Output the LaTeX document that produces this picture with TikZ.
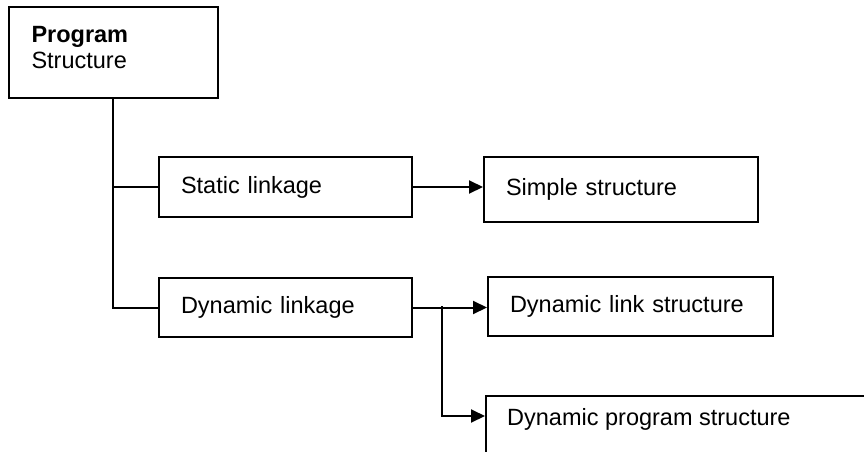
\documentclass[tikz,border=0pt]{standalone}
\usepackage{fontspec}
\setmainfont{Liberation Sans}
\usetikzlibrary{arrows.meta}
\begin{document}
\begin{tikzpicture}[x=1pt,y=-1pt,
  box/.style={draw=black, line width=2pt, anchor=north west, inner xsep=22pt, inner ysep=0pt,
    align=left, font=\fontsize{23.5}{26}\selectfont},
  lbl/.style={font=\fontsize{23.5}{26}\selectfont, inner sep=0pt},
  conn/.style={draw=black, line width=2pt},
  arr/.style={conn, -{Triangle[length=14pt,width=13pt]}}]
\clip (0,0) rectangle (864,452);
\fill[white] (0,0) rectangle (864,452);
\node[box, minimum width=209pt, minimum height=91pt, text width=164pt] (prog) at (8,6)
  {\textbf{Program}\\Structure\\[-16pt]\mbox{}};
\node[box, minimum width=253pt, minimum height=60pt, text width=209pt] (stat) at (158,156) {Static linkage};
\node[box, minimum width=274pt, minimum height=65pt, text width=230pt] (simple) at (483,156) {Simple structure};
\node[box, minimum width=253pt, minimum height=59pt, text width=209pt] (dyn) at (158,277) {Dynamic linkage};
\node[box, minimum width=284pt, minimum height=59pt, text width=241pt] (dlink) at (487,276) {Dynamic link structure};
\node[box, minimum width=420pt, minimum height=100pt] (dprog) at (485,395) {};
\node[lbl, anchor=base west] (dprogtxt) at (507,425) {Dynamic program structure};
\coordinate (trunk) at (113,97);
\coordinate (branch) at (442,306);
\coordinate (dpin) at (485,416);
\draw[conn] (trunk) |- (stat.west);
\draw[conn] (trunk) |- (dyn.west);
\draw[arr] (stat.east) -- (stat.east -| simple.west);
\draw[arr] (dyn.east) -- (dyn.east -| dlink.west);
\draw[arr] (branch) |- (dpin);
\end{tikzpicture}
\end{document}
